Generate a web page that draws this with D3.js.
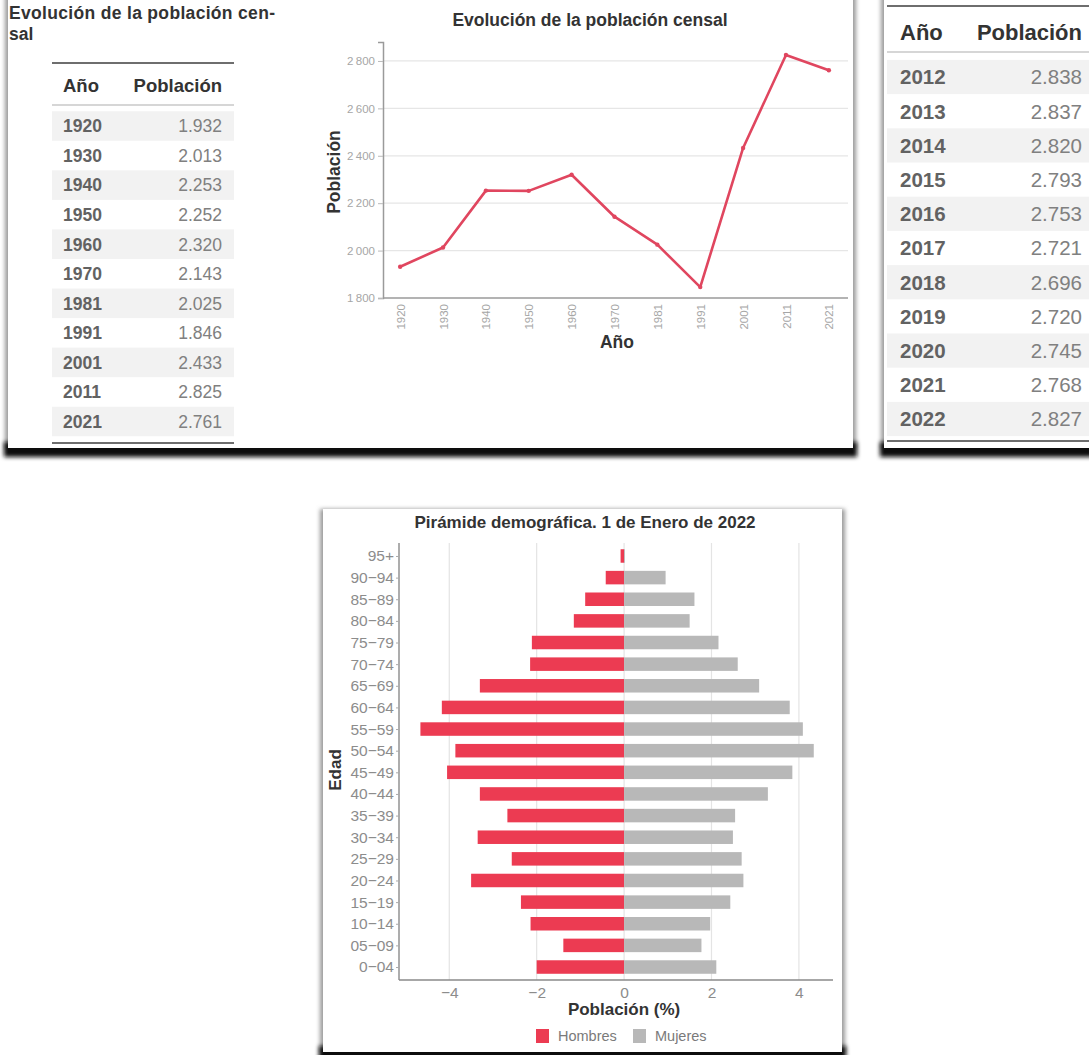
<!DOCTYPE html>
<html lang="es">
<head>
<meta charset="utf-8">
<title>Evolución de la población</title>
<script src="https://cdn.jsdelivr.net/npm/d3@7"></script>
<style>
  html, body { margin: 0; padding: 0; background: #ffffff; }
  svg { display: block; font-family: "Liberation Sans", Arial, Helvetica, sans-serif; }
</style>
</head>
<body>
<svg id="page" width="1089" height="1055"></svg>
<script>
// Población censal (miles de habitantes)
const censusYears = ["1920", "1930", "1940", "1950", "1960", "1970", "1981", "1991", "2001", "2011", "2021"];
const censusPop = [1932, 2013, 2253, 2252, 2320, 2143, 2025, 1846, 2433, 2825, 2761];

// Padrón municipal, años recientes
const padronYears = ["2012", "2013", "2014", "2015", "2016", "2017", "2018", "2019", "2020", "2021", "2022"];
const padronPop = [2838, 2837, 2820, 2793, 2753, 2721, 2696, 2720, 2745, 2768, 2827];

// Pirámide a 1 de enero de 2022 (% del total)
const ageGroups = ["95+", "90−94", "85−89", "80−84", "75−79", "70−74", "65−69", "60−64", "55−59", "50−54",
                   "45−49", "40−44", "35−39", "30−34", "25−29", "20−24", "15−19", "10−14", "05−09", "0−04"];
const menPct = [0.08, 0.42, 0.89, 1.15, 2.11, 2.15, 3.30, 4.17, 4.66, 3.86,
                4.05, 3.30, 2.67, 3.35, 2.57, 3.50, 2.36, 2.14, 1.39, 2.00];
const womenPct = [0.02, 0.95, 1.61, 1.50, 2.16, 2.60, 3.09, 3.79, 4.09, 4.34,
                  3.85, 3.29, 2.54, 2.49, 2.69, 2.73, 2.43, 1.97, 1.77, 2.11];
const pyramidTicks = [-4, -2, 0, 2, 4];
const legendItems = ["Hombres", "Mujeres"];

const RED_LINE = "#e0465f";
const RED = "#ec3b52";
const GREY = "#b8b8b8";

const svg = d3.select("#page");
const esTable = d3.formatLocale({ decimal: ",", thousands: ".", grouping: [3], currency: ["", " €"] });
const esAxis = d3.formatLocale({ decimal: ",", thousands: "\u2009", grouping: [3], currency: ["", " €"], minus: "\u2212" });
const fmtTable = esTable.format(",d");
const fmtAxis = esAxis.format(",d");

// ---------- card shadows ----------
const defs = svg.append("defs");
const soft = defs.append("filter").attr("id", "soft").attr("x", "-5%").attr("y", "-5%").attr("width", "110%").attr("height", "110%");
soft.append("feGaussianBlur").attr("stdDeviation", 2);
const deep = defs.append("filter").attr("id", "deep").attr("x", "-5%").attr("y", "-50%").attr("width", "110%").attr("height", "200%");
deep.append("feGaussianBlur").attr("stdDeviation", 2.2);

function card(x, y, w, h, bottomShadow) {
  const g = svg.append("g");
  g.append("rect").attr("x", x - 3).attr("y", y).attr("width", w + 6).attr("height", h + 2)
    .attr("fill", "#9a9a9a").attr("filter", "url(#soft)");
  if (bottomShadow) {
    g.append("rect").attr("x", x - 4).attr("y", y + h - 6).attr("width", w + 8).attr("height", 15)
      .attr("fill", "#111111").attr("filter", "url(#deep)");
  }
  g.append("rect").attr("x", x).attr("y", y).attr("width", w).attr("height", h).attr("fill", "#ffffff");
}
card(8, -10, 845, 458, true);
card(884, -10, 220, 458, true);
card(323, 509, 519, 543, true);

// ---------- data tables ----------
function table(opts) {
  const g = svg.append("g");
  const n = opts.years.length;
  g.append("line").attr("x1", opts.x0).attr("x2", opts.x1).attr("y1", opts.top).attr("y2", opts.top)
    .attr("stroke", "#6e6e6e").attr("stroke-width", 2);
  g.append("text").attr("x", opts.yearX).attr("y", opts.headY).attr("font-weight", "bold")
    .attr("font-size", opts.headSize).attr("fill", "#333").text("Año");
  g.append("text").attr("x", opts.valX).attr("y", opts.headY).attr("text-anchor", "end").attr("font-weight", "bold")
    .attr("font-size", opts.headSize).attr("fill", "#333").text("Población");
  g.append("line").attr("x1", opts.x0).attr("x2", opts.x1).attr("y1", opts.headRule).attr("y2", opts.headRule)
    .attr("stroke", "#c8c8c8").attr("stroke-width", 1.5);
  const rowY = d3.scaleLinear().domain([0, n - 1]).range([opts.firstRow, opts.lastRow]);
  const step = rowY(1) - rowY(0);
  const rows = g.selectAll("g.row").data(opts.years.map((yr, i) => ({ yr, v: opts.values[i], i })))
    .join("g").attr("class", "row").attr("transform", d => `translate(0,${rowY(d.i)})`);
  rows.filter(d => d.i % 2 === 0).append("rect")
    .attr("x", opts.x0).attr("y", -step / 2).attr("width", opts.x1 - opts.x0).attr("height", step)
    .attr("fill", "#f2f2f2");
  rows.append("text").attr("x", opts.yearX).attr("dy", "0.36em").attr("font-size", opts.rowSize)
    .attr("font-weight", "bold").attr("fill", "#626262").text(d => d.yr);
  rows.append("text").attr("x", opts.valX).attr("dy", "0.36em").attr("text-anchor", "end")
    .attr("font-size", opts.rowSize).attr("fill", "#808080").text(d => fmtTable(d.v));
  g.append("line").attr("x1", opts.x0).attr("x2", opts.x1).attr("y1", opts.bottom).attr("y2", opts.bottom)
    .attr("stroke", "#6e6e6e").attr("stroke-width", 2);
}

// Table caption, wrapped onto two lines
svg.append("text").attr("x", 9).attr("y", 19).attr("font-size", 17.5).attr("font-weight", "bold").attr("fill", "#333")
  .attr("textLength", 266).attr("lengthAdjust", "spacing")
  .text("Evolución de la población cen-");
svg.append("text").attr("x", 9).attr("y", 40).attr("font-size", 17.5).attr("font-weight", "bold").attr("fill", "#333")
  .text("sal");

table({ years: censusYears, values: censusPop, x0: 52, x1: 234, yearX: 63, valX: 222,
  top: 63, headY: 92, headRule: 105, firstRow: 126, lastRow: 421.5, bottom: 443,
  headSize: 18.5, rowSize: 17.5 });

table({ years: padronYears, values: padronPop, x0: 887, x1: 1089, yearX: 900, valX: 1082,
  top: 6, headY: 40, headRule: 52, firstRow: 77, lastRow: 419, bottom: 441,
  headSize: 22, rowSize: 20.5 });

// ---------- census line chart ----------
(function () {
  const left = 383, right = 848, top = 42, bottom = 298;
  const x = d3.scalePoint().domain(censusYears).range([left, right - 2]).padding(0.4);
  const y = d3.scaleLinear().domain([1800, 2880]).range([bottom, top]);
  const g = svg.append("g");

  g.append("text").attr("x", 590).attr("y", 26).attr("text-anchor", "middle").attr("font-size", 17.5)
    .attr("font-weight", "bold").attr("fill", "#333").text("Evolución de la población censal");

  const yTicks = [1800, 2000, 2200, 2400, 2600, 2800];
  g.append("g").selectAll("line").data(yTicks.slice(1)).join("line")
    .attr("x1", left).attr("x2", right).attr("y1", d => y(d)).attr("y2", d => y(d))
    .attr("stroke", "#e6e6e6").attr("stroke-width", 1.2);

  const yAxis = g.append("g").attr("transform", `translate(${left},0)`)
    .call(d3.axisLeft(y).tickValues(yTicks).tickFormat(fmtAxis).tickSize(5).tickPadding(3));
  yAxis.select(".domain").attr("stroke", "#9a9a9a").attr("stroke-width", 1.5);
  yAxis.selectAll(".tick line").attr("stroke", "#bbb");
  yAxis.selectAll(".tick text").attr("fill", "#a6a6a6").attr("font-size", 11.5);

  const xAxis = g.append("g").attr("transform", `translate(0,${bottom})`)
    .call(d3.axisBottom(x).tickSize(0).tickPadding(6));
  xAxis.select(".domain").attr("d", `M${left},0H${right}`).attr("stroke", "#9a9a9a").attr("stroke-width", 1.5);
  xAxis.selectAll(".tick text").attr("fill", "#a6a6a6").attr("font-size", 11.5)
    .attr("transform", "rotate(-90)").attr("text-anchor", "end").attr("x", -6).attr("y", 0).attr("dy", "0.35em");

  g.append("text").attr("transform", `translate(340,${(top + bottom) / 2 + 2}) rotate(-90)`)
    .attr("text-anchor", "middle").attr("font-size", 17.5).attr("font-weight", "bold").attr("fill", "#333")
    .text("Población");
  g.append("text").attr("x", 617).attr("y", 348).attr("text-anchor", "middle").attr("font-size", 17.5)
    .attr("font-weight", "bold").attr("fill", "#333").text("Año");

  const pts = censusYears.map((yr, i) => [x(yr), y(censusPop[i])]);
  g.append("path").attr("d", d3.line()(pts)).attr("fill", "none").attr("stroke", RED_LINE)
    .attr("stroke-width", 2.6).attr("stroke-linejoin", "round");
  g.selectAll("circle").data(pts).join("circle").attr("cx", d => d[0]).attr("cy", d => d[1])
    .attr("r", 2.2).attr("fill", RED_LINE);
})();

// ---------- population pyramid ----------
(function () {
  const left = 399, right = 833, top = 543, bottom = 980;
  const x = d3.scaleLinear().domain([-5.15, 4.78]).range([left, right]);
  const y = d3.scalePoint().domain(ageGroups).range([top, bottom]).padding(0.6);
  const barH = 13.5;
  const g = svg.append("g");

  g.append("text").attr("x", 585).attr("y", 528).attr("text-anchor", "middle").attr("font-size", 17)
    .attr("font-weight", "bold").attr("fill", "#333").text("Pirámide demográfica. 1 de Enero de 2022");

  g.append("g").selectAll("line").data(pyramidTicks).join("line")
    .attr("x1", d => x(d)).attr("x2", d => x(d)).attr("y1", top).attr("y2", bottom)
    .attr("stroke", "#e4e4e4").attr("stroke-width", 1.2);

  const rows = ageGroups.map((a, i) => ({ a, m: menPct[i], w: womenPct[i] }));
  g.append("g").selectAll("rect").data(rows).join("rect")
    .attr("x", d => x(-d.m)).attr("width", d => x(0) - x(-d.m))
    .attr("y", d => y(d.a) - barH / 2).attr("height", barH).attr("fill", RED);
  g.append("g").selectAll("rect").data(rows).join("rect")
    .attr("x", x(0)).attr("width", d => x(d.w) - x(0))
    .attr("y", d => y(d.a) - barH / 2).attr("height", barH).attr("fill", GREY);

  const yAxis = g.append("g").attr("transform", `translate(${left},0)`)
    .call(d3.axisLeft(y).tickSize(3).tickPadding(2));
  yAxis.select(".domain").attr("d", `M0,${top}V${bottom}`).attr("stroke", "#8a8a8a").attr("stroke-width", 1.4);
  yAxis.selectAll(".tick line").attr("stroke", "#aaa");
  yAxis.selectAll(".tick text").attr("fill", "#8c8c8c").attr("font-size", 15.5);

  const xAxis = g.append("g").attr("transform", `translate(0,${bottom})`)
    .call(d3.axisBottom(x).tickValues(pyramidTicks).tickFormat(esAxis.format("d")).tickSize(0).tickPadding(7));
  xAxis.select(".domain").attr("d", `M${left},0H${right}`).attr("stroke", "#8a8a8a").attr("stroke-width", 1.4);
  xAxis.selectAll(".tick text").attr("fill", "#8c8c8c").attr("font-size", 15.5);

  g.append("text").attr("x", x(0)).attr("y", 1015).attr("text-anchor", "middle").attr("font-size", 17)
    .attr("font-weight", "bold").attr("fill", "#333").text("Población (%)");
  g.append("text").attr("transform", `translate(341,770) rotate(-90)`).attr("text-anchor", "middle")
    .attr("font-size", 17).attr("font-weight", "bold").attr("fill", "#333").text("Edad");

  const legend = g.append("g").attr("transform", "translate(536,1029)");
  const lx = [0, 97];
  legendItems.forEach((name, i) => {
    const item = legend.append("g").attr("transform", `translate(${lx[i]},0)`);
    item.append("rect").attr("width", 13).attr("height", 14).attr("fill", i === 0 ? RED : GREY);
    item.append("text").attr("x", 22).attr("y", 12).attr("font-size", 14.5).attr("fill", "#7a7a7a").text(name);
  });
})();
</script>
</body>
</html>
